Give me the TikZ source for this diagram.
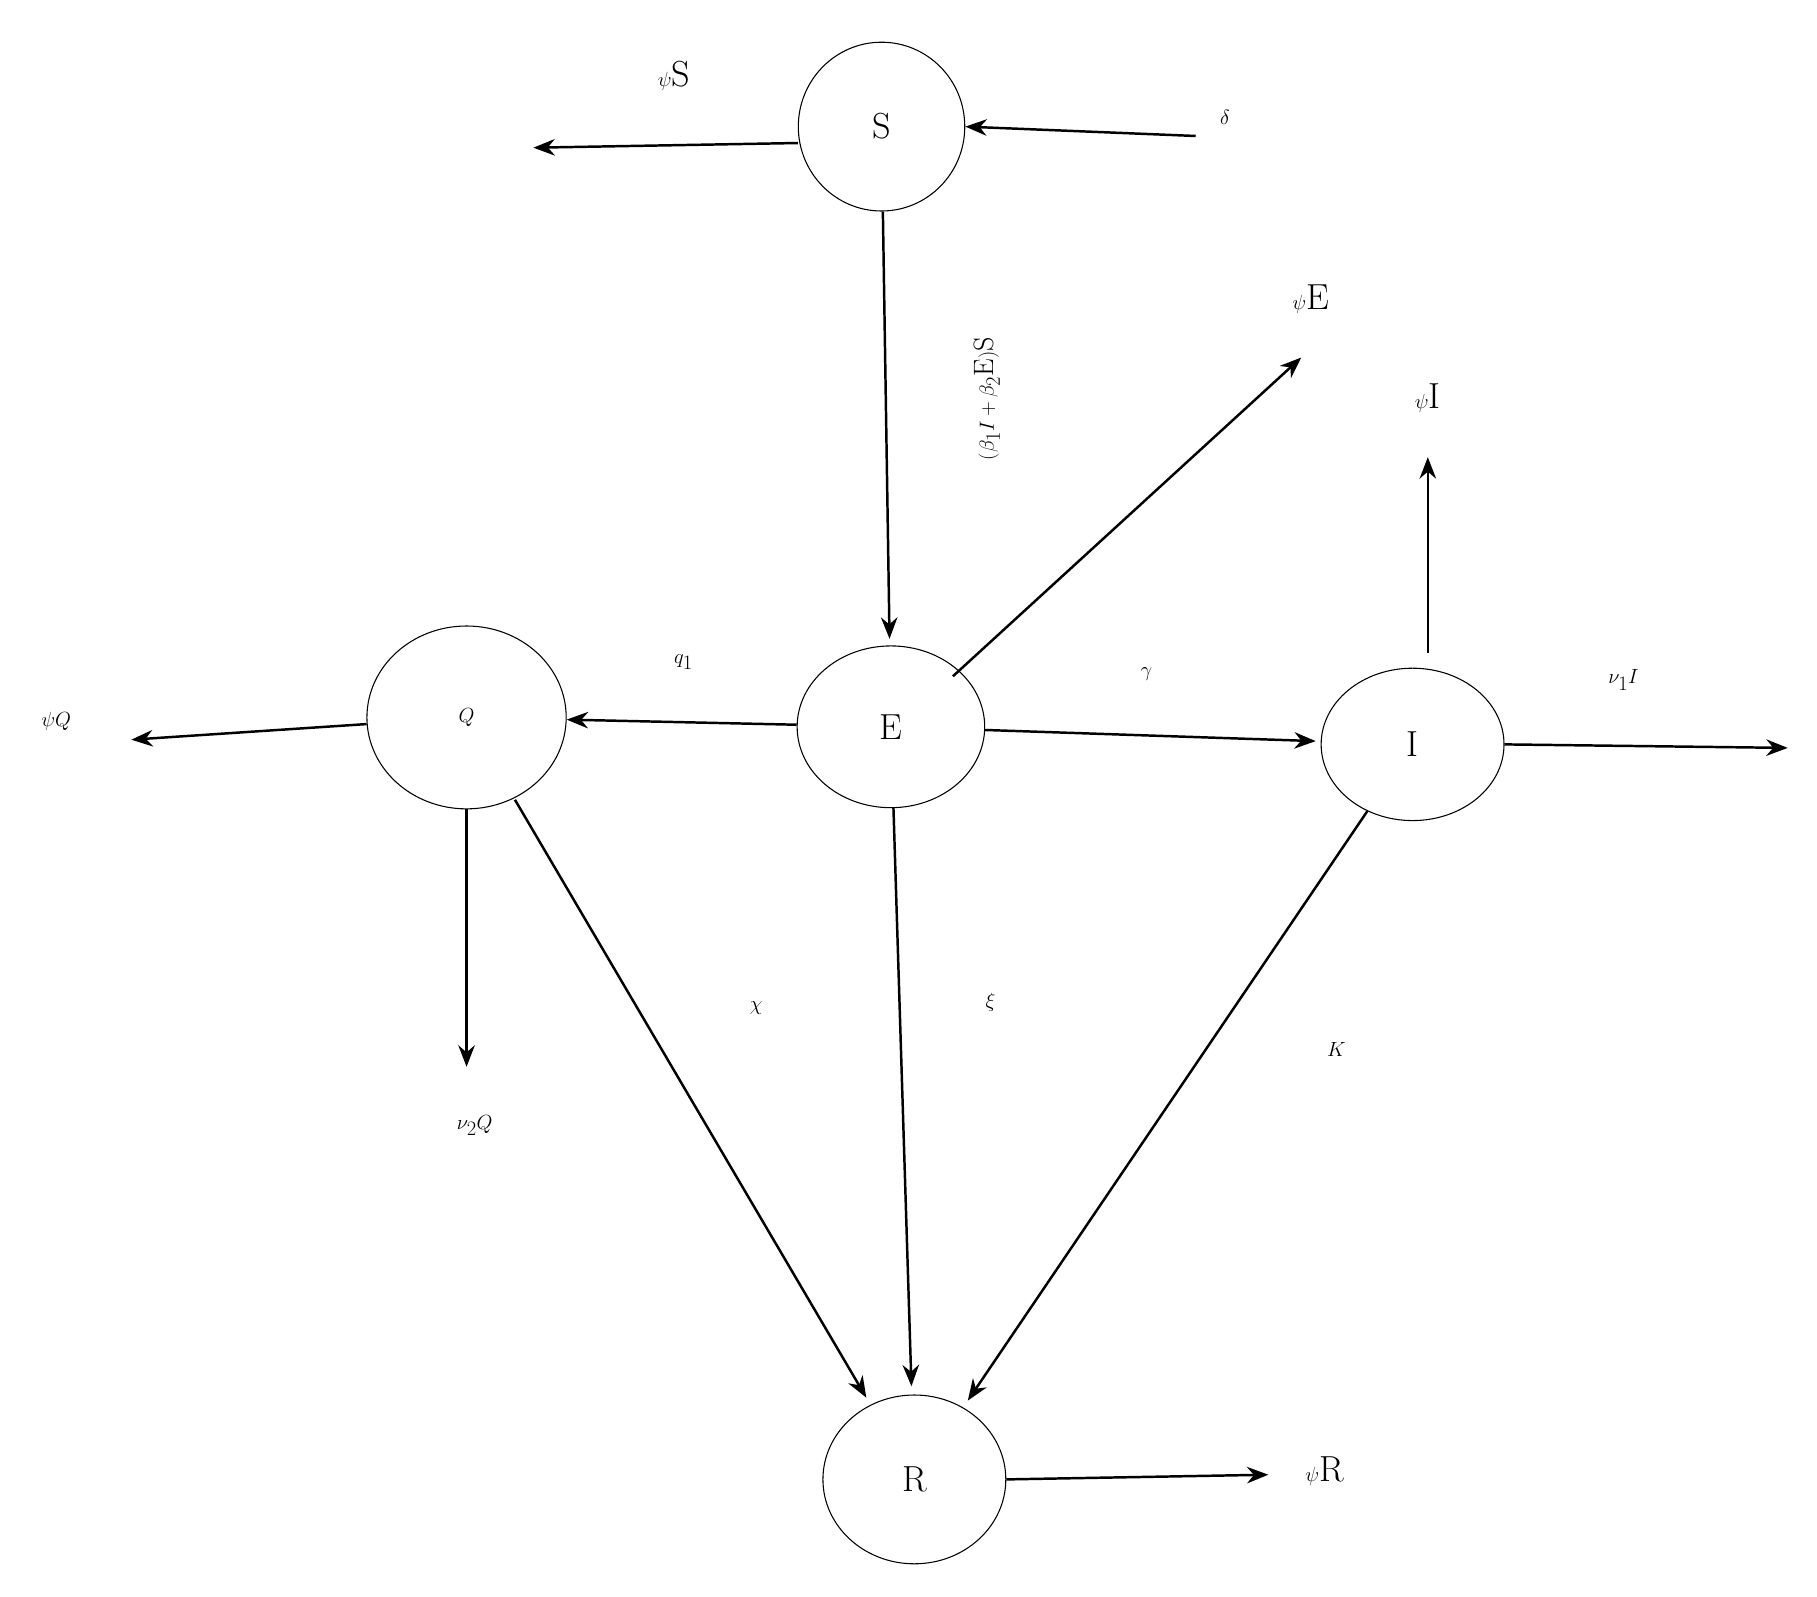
\documentclass[tikz,border=0pt]{standalone}
\usetikzlibrary{shapes.geometric,arrows.meta}
\begin{document}
\begin{tikzpicture}[x=0.05cm,y=-0.05cm,
  st/.style={draw,ellipse,line width=1.3pt,inner sep=0pt,font=\fontsize{44}{50}\selectfont},
  lab/.style={font=\fontsize{44}{50}\selectfont,inner sep=0pt},
  ar/.style={line width=3pt,-{Stealth[length=26pt,width=20pt]}}]
\useasboundingbox (0,0) rectangle (1550,1362);
\node[st,minimum width=142\pgflinewidth*0+7.1cm,minimum height=7.2cm] (S) at (752,108) {S};
\node[st,minimum width=8cm,minimum height=6.9cm] (E) at (760,620) {E};
\node[st,minimum width=8.5cm,minimum height=7.8cm] (Q) at (398,612) {$Q$};
\node[st,minimum width=7.8cm,minimum height=6.5cm] (I) at (1205,635) {I};
\node[st,minimum width=7.8cm,minimum height=7.2cm] (R) at (780,1262) {R};
\coordinate (sl) at (455,126);
\coordinate (dl) at (1020,116);
\coordinate (el) at (1110,305);
\coordinate (il) at (1218,390);
\coordinate (is) at (1218,557);
\coordinate (ir) at (1525,638);
\coordinate (ql) at (112,631);
\coordinate (qd) at (398,910);
\coordinate (rr) at (1082,1258);
\draw[ar] (S.west |- 0,122) -- (sl);
\draw[ar] (dl) -- (S.east);
\draw[ar,shorten >=8pt] (S) -- (E);
\draw[ar] (E.north east) ++(-4,6) -- (el);
\draw[ar] (is) -- (il);
\draw[ar] (I.east) -- (ir);
\draw[ar,shorten >=6pt] (E) -- (I);
\draw[ar] (E) -- (Q);
\draw[ar] (Q) -- (ql);
\draw[ar] (Q.south) -- (qd);
\draw[ar,shorten >=10pt,shorten <=2pt] (Q) -- (R);
\draw[ar,shorten >=10pt] (E) -- (R);
\draw[ar,shorten >=10pt] (I) -- (R);
\draw[ar] (R.east) -- (rr);
\node[lab] (t1) at (575,65) {$\psi$S};
\node[lab] (t2) at (1045,100) {$\delta$};
\node[lab,rotate=90,font=\fontsize{34}{40}\selectfont] (t3) at (842,340) {$(\beta_1 I+\beta_2$E$)$S};
\node[lab] (t4) at (1118,255) {$\psi$E};
\node[lab] (t5) at (1218,340) {$\psi$I};
\node[lab] (t6) at (1385,580) {$\nu_1 I$};
\node[lab] (t7) at (978,575) {$\gamma$};
\node[lab] (t8) at (583,565) {$q_1$};
\node[lab,font=\fontsize{34}{40}\selectfont] (t9) at (48,615) {$\psi Q$};
\node[lab] (t10) at (405,960) {$\nu_2 Q$};
\node[lab] (t11) at (645,860) {$\chi$};
\node[lab] (t12) at (845,855) {$\xi$};
\node[lab] (t13) at (1140,895) {$K$};
\node[lab] (t14) at (1130,1255) {$\psi$R};
\end{tikzpicture}
\end{document}
